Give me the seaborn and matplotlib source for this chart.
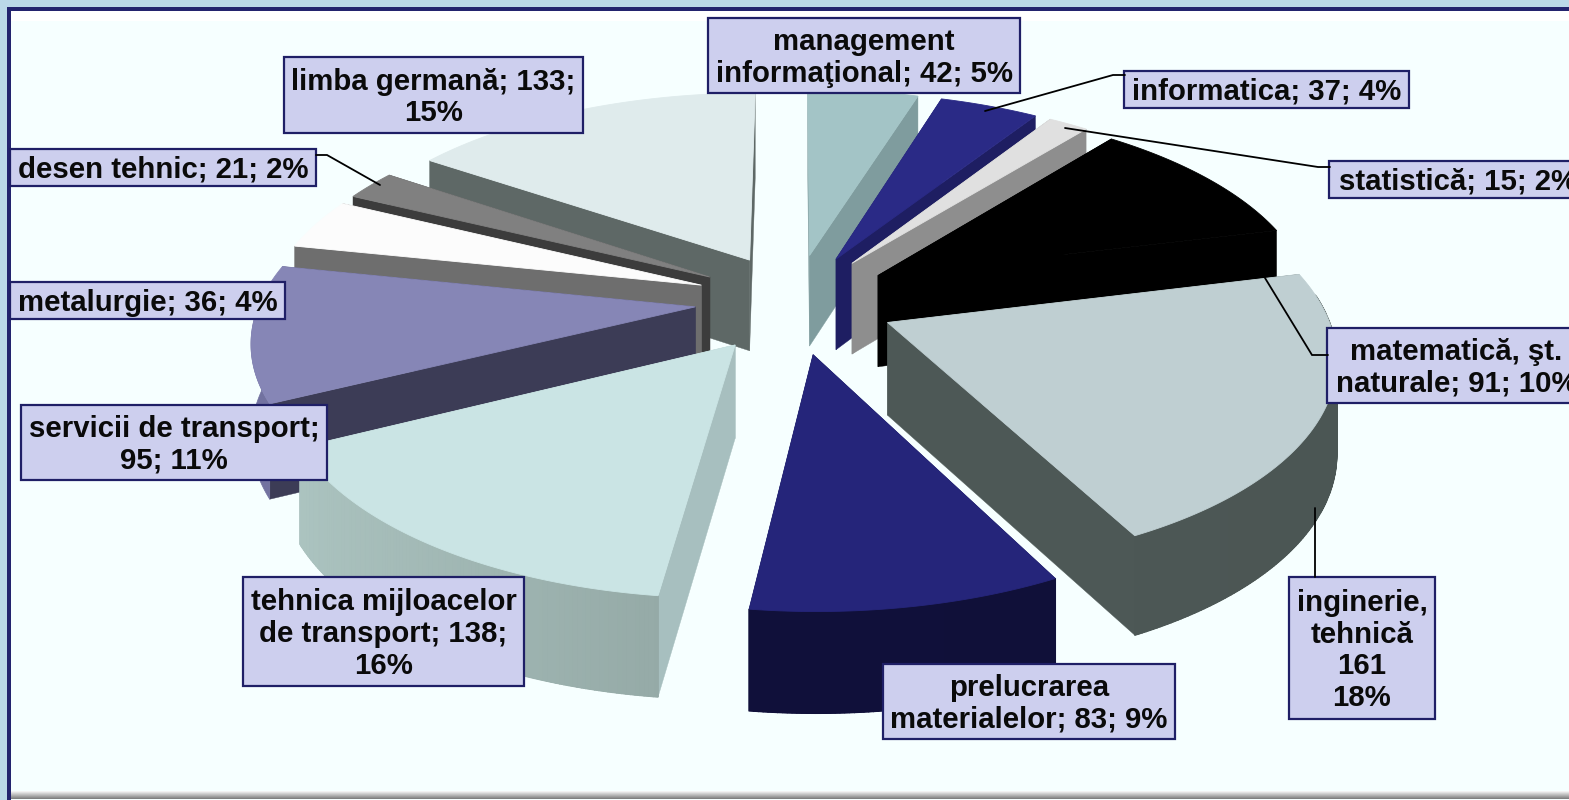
import numpy as np
import matplotlib
matplotlib.use("Agg")
import matplotlib.pyplot as plt
from matplotlib.patches import Polygon, Rectangle
import seaborn as sns

# =========================
# DATA
# =========================
categories = ["management informaţional", "informatica", "statistică",
              "matematică, şt. naturale", "inginerie, tehnică",
              "prelucrarea materialelor", "tehnica mijloacelor de transport",
              "servicii de transport", "metalurgie", "desen tehnic", "limba germană"]
values = [42, 37, 15, 91, 161, 83, 138, 95, 36, 21, 133]
percents = [5, 4, 2, 10, 18, 9, 16, 11, 4, 2, 15]

label_texts = [
    "management\ninformaţional; 42; 5%",
    "informatica; 37; 4%",
    "statistică; 15; 2%",
    "matematică, şt.\nnaturale; 91; 10%",
    "inginerie,\ntehnică\n161\n18%",
    "prelucrarea\nmaterialelor; 83; 9%",
    "tehnica mijloacelor\nde transport; 138;\n16%",
    "servicii de transport;\n95; 11%",
    "metalurgie; 36; 4%",
    "desen tehnic; 21; 2%",
    "limba germană; 133;\n15%",
]

# colours: top face, outer wall, cut faces
top_colors = ["#A3C4C6", "#2A2A86", "#E0E0E0", "#000000", "#BFCFD2", "#25257A",
              "#CAE4E4", "#8686B6", "#FCFCFC", "#808080", "#DFEBEC"]
wall_colors = ["#7F9C9E", "#1E1E62", "#8E8E8E", "#000000", "#4D5856", "#10103A",
               "#8EA29F", "#7272A0", "#6E6E6E", "#3C3C3C", "#5E6866"]
cut_colors = ["#7F9C9E", "#1E1E62", "#8E8E8E", "#000000", "#4D5856", "#10103A",
              "#A7BFBF", "#3C3C56", "#6E6E6E", "#3C3C3C", "#5E6866"]
wall_fade = [0, 0, 0, 0, 0.02, 0.03, 0.2, 0, 0, 0, 0]

# label boxes: left, top, right, bottom (px)
label_boxes = [(708, 18, 1020, 93), (1124, 71, 1409, 108), (1329, 161, 1588, 198),
               (1327, 328, 1586, 403), (1289, 577, 1435, 719), (883, 664, 1175, 739),
               (243, 577, 524, 686), (21, 405, 327, 480), (10, 282, 285, 319),
               (10, 149, 316, 186), (284, 57, 583, 133)]

leaders = [
    ([985, 1113, 1125], [111, 75, 75]),
    ([1065, 1318, 1330], [128, 167, 167]),
    ([1265, 1312, 1328], [278, 355, 355]),
    ([1315, 1315], [508, 577]),
    ([316, 327, 380], [155, 155, 185]),
]

# =========================
# PIE GEOMETRY
# =========================
CX, CY = 795, 300
RX, RY = 435, 202
PERSP = 0.145
EXPLODE = 0.23
FRONT_PUSH = 1.15
DEPTH = 92

# excel's 3d view does not keep the angles, front slices open up a bit
view_deg = [0, 18, 40, 78, 146, 181, 240, 280, 304, 360]
view_rot = [0, -0.5, -0.8, -2, 6.5, 6, 4, 2, 0.5, 0]


def view_angle(deg):
    return deg + np.interp(deg, view_deg, view_rot)


def project(u, v, ex_u, ex_v, low=False):
    uu = u + ex_u
    vv = v + ex_v
    w = 1 - PERSP * vv
    x = CX + RX * uu / w
    y = CY + RY * vv / w
    if low:
        y = y + DEPTH / np.sqrt(w)
    return x, y


def shade(color, factor):
    rgb = np.array(matplotlib.colors.to_rgb(color)) * factor
    return tuple(np.clip(rgb, 0, 1))


sns.set_theme(style="white")
plt.rcParams["font.family"] = ["Liberation Sans", "DejaVu Sans"]
tops = sns.color_palette(top_colors)

fig = plt.figure(figsize=(15.69, 8), dpi=100)
ax = fig.add_axes([0, 0, 1, 1])
ax.set_xlim(0, 1569)
ax.set_ylim(800, 0)
ax.axis("off")

# =========================
# BACKGROUND
# =========================
ax.add_patch(Rectangle((0, 0), 1569, 800, fc="#BBD8E8", ec="none"))
ax.add_patch(Rectangle((7, 7), 1562, 793, fc="#23236E", ec="none"))
ax.add_patch(Rectangle((11, 11), 1558, 789, fc="#F6FFFF", ec="none"))
ax.add_patch(Rectangle((11, 11), 1558, 10, fc="#FFFFFF", ec="none"))
for i, g in enumerate(np.linspace(0.95, 0.5, 8)):
    ax.add_patch(Rectangle((11, 791 + i), 1558, 1.2, fc=str(g), ec="none"))

# =========================
# SLICES
# =========================
total = sum(values)
edges = view_angle(np.concatenate([[0], np.cumsum(values)]) / total * 360)

order = sorted(range(len(values)),
               key=lambda i: -np.cos(np.radians((edges[i] + edges[i + 1]) / 2)))

for i in order:
    a0, a1 = edges[i], edges[i + 1]
    mid = np.radians((a0 + a1) / 2)
    ex_u = EXPLODE * np.sin(mid)
    ex_v = -EXPLODE * np.cos(mid)
    if ex_v > 0:
        ex_v = ex_v * FRONT_PUSH
    th = np.radians(np.linspace(a0, a1, max(int(a1 - a0) * 2, 4)))
    us = np.sin(th)
    vs = -np.cos(th)

    xt, yt = project(us, vs, ex_u, ex_v)
    xb, yb = project(us, vs, ex_u, ex_v, low=True)
    ax_t, ay_t = project(0, 0, ex_u, ex_v)
    ax_b, ay_b = project(0, 0, ex_u, ex_v, low=True)

    # cut faces: first edge and last edge
    face0 = [(ax_t, ay_t), (xt[0], yt[0]), (xb[0], yb[0]), (ax_b, ay_b)]
    face1 = [(xt[-1], yt[-1]), (ax_t, ay_t), (ax_b, ay_b), (xb[-1], yb[-1])]
    for face in (face0, face1):
        ax.add_patch(Polygon(face, closed=True, fc=cut_colors[i], ec=cut_colors[i], lw=0.3))

    # outer wall: flat base first, then strips so that it can be shaded
    keep = vs + ex_v >= -0.02
    if keep.sum() > 1:
        base = list(zip(xt[keep], yt[keep])) + list(zip(xb[keep][::-1], yb[keep][::-1]))
        ax.add_patch(Polygon(base, closed=True, fc=wall_colors[i], ec=wall_colors[i], lw=0.5))
    if wall_fade[i] > 0:
        for k in range(len(th) - 1):
            if not (keep[k] or keep[k + 1]):
                continue
            c = shade(wall_colors[i], 1 - wall_fade[i] * (us[k] + ex_u))
            quad = [(xt[k], yt[k]), (xt[k + 1], yt[k + 1]), (xb[k + 1], yb[k + 1]), (xb[k], yb[k])]
            ax.add_patch(Polygon(quad, closed=True, fc=c, ec=c, lw=1.0))

    top = [(ax_t, ay_t)] + list(zip(xt, yt))
    ax.add_patch(Polygon(top, closed=True, fc=tops[i], ec=tops[i], lw=0.6))

# =========================
# LABELS
# =========================
for xs, ys in leaders:
    ax.plot(xs, ys, color="black", lw=1.3, solid_joinstyle="miter")

for text, (l, t, r, b) in zip(label_texts, label_boxes):
    ax.add_patch(Rectangle((l, t), r - l, b - t, fc="#CDCFEE", ec="#1F1F66", lw=1.6))
    ax.text((l + r) / 2, (t + b) / 2 + 2.5, text, ha="center", va="center",
            fontsize=21.2, fontweight="bold", color="#0A0A0A", linespacing=1.18)

fig.savefig("out.png", dpi=100)
